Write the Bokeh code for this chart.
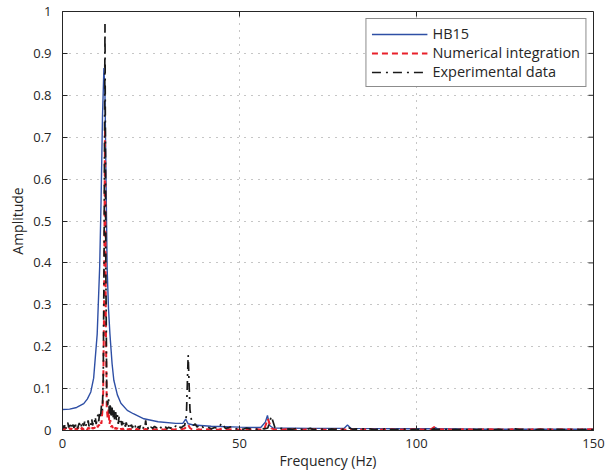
import numpy as np
from bokeh.plotting import figure
from bokeh.models import FixedTicker, CustomJSTickFormatter, Range1d
from bokeh.embed import file_html
from bokeh.resources import INLINE

# ---------------- data ----------------
x_ticks = [0, 50, 100, 150]
y_ticks = [0, 0.1, 0.2, 0.3, 0.4, 0.5, 0.6, 0.7, 0.8, 0.9, 1.0]

# HB15 (harmonic balance) response
hb_freq = [0, 2, 4, 6, 7, 8, 8.8, 9.8, 10.5, 10.9, 11.3, 11.7, 12.0, 12.3, 12.6, 13.0,
           13.4, 14.0, 14.5, 15.5, 16.5, 18.3, 20, 23, 27, 32, 34, 34.8, 35.5, 37, 42, 50,
           56, 57.3, 57.9, 58.5, 59.5, 70, 79.5, 80.5, 81.5, 95, 104.5, 105.3, 106, 120, 150]
hb_amp = [0.050, 0.051, 0.055, 0.064, 0.075, 0.092, 0.125, 0.23, 0.39, 0.55, 0.75, 0.865,
          0.80, 0.60, 0.39, 0.29, 0.23, 0.16, 0.12, 0.085, 0.065, 0.048, 0.040, 0.028,
          0.021, 0.017, 0.017, 0.027, 0.016, 0.013, 0.010, 0.008, 0.007, 0.020, 0.036,
          0.012, 0.006, 0.005, 0.005, 0.013, 0.005, 0.004, 0.004, 0.007, 0.004, 0.003, 0.003]

# Experimental spectrum: 0-25 Hz every 0.25 Hz, 25.5-40 Hz every 0.5 Hz, 41-150 Hz every 1 Hz
exp_a = [0.004, 0.012, 0.006, 0.016, 0.005, 0.011, 0.019, 0.007, 0.013, 0.004,
         0.017, 0.009, 0.014, 0.006, 0.020, 0.010, 0.015, 0.005, 0.012, 0.018,
         0.008, 0.014, 0.006, 0.017, 0.011, 0.021, 0.009, 0.016, 0.012, 0.024,
         0.010, 0.019, 0.014, 0.028, 0.012, 0.022, 0.017, 0.033, 0.015, 0.027,
         0.038, 0.022, 0.045, 0.030, 0.060, 0.048, 0.120, 0.420, 0.970, 0.380,
         0.085, 0.060, 0.078, 0.040, 0.065, 0.030, 0.055, 0.028, 0.048, 0.022,
         0.045, 0.025, 0.038, 0.016, 0.034, 0.020, 0.028, 0.012, 0.025, 0.015,
         0.022, 0.009, 0.019, 0.011, 0.017, 0.008, 0.016, 0.010, 0.014, 0.006,
         0.013, 0.008, 0.012, 0.005, 0.011, 0.007, 0.010, 0.004, 0.012, 0.006,
         0.009, 0.005, 0.010, 0.007, 0.024, 0.006, 0.009, 0.004, 0.010, 0.006,
         0.008]
exp_b = [0.005, 0.010, 0.006, 0.011, 0.005, 0.009, 0.006, 0.010, 0.004, 0.008,
         0.005, 0.010, 0.006, 0.011, 0.005, 0.009, 0.006, 0.010, 0.012, 0.035,
         0.180, 0.050, 0.020, 0.012, 0.016, 0.008, 0.011, 0.006, 0.009, 0.005]
exp_c = [0.008, 0.004, 0.007, 0.005, 0.018, 0.005, 0.007, 0.010, 0.004, 0.006,
         0.003, 0.006, 0.004, 0.005, 0.003, 0.005, 0.004, 0.006, 0.034, 0.007,
         0.004, 0.005, 0.003, 0.004, 0.003, 0.005, 0.002, 0.004, 0.003, 0.005,
         0.002, 0.004, 0.003, 0.004, 0.002, 0.004, 0.003, 0.005, 0.003, 0.004,
         0.006, 0.003, 0.004, 0.002, 0.004, 0.003, 0.004, 0.002, 0.003, 0.002,
         0.004, 0.002, 0.003, 0.002, 0.003, 0.002, 0.004, 0.002, 0.003, 0.002,
         0.003, 0.002, 0.003, 0.002, 0.004, 0.002, 0.003, 0.002, 0.003, 0.002,
         0.003, 0.002, 0.003, 0.002, 0.002, 0.003, 0.002, 0.003, 0.002, 0.003,
         0.002, 0.002, 0.003, 0.002, 0.003, 0.002, 0.003, 0.004, 0.002, 0.003,
         0.002, 0.002, 0.003, 0.002, 0.003, 0.002, 0.002, 0.003, 0.002, 0.003,
         0.002, 0.002, 0.003, 0.002, 0.003, 0.002, 0.002, 0.003, 0.002, 0.002]

# Numerical integration spectrum, same bins
num_a = [0.002, 0.005, 0.002, 0.004, 0.006, 0.002, 0.004, 0.003, 0.006, 0.002,
         0.005, 0.003, 0.002, 0.006, 0.003, 0.005, 0.002, 0.004, 0.006, 0.002,
         0.005, 0.003, 0.007, 0.002, 0.004, 0.006, 0.003, 0.005, 0.002, 0.007,
         0.004, 0.006, 0.003, 0.008, 0.004, 0.007, 0.005, 0.009, 0.006, 0.011,
         0.008, 0.014, 0.010, 0.020, 0.016, 0.045, 0.090, 0.300, 0.720, 0.250,
         0.055, 0.030, 0.050, 0.015, 0.025, 0.008, 0.012, 0.005, 0.009, 0.004,
         0.007, 0.003, 0.006, 0.002, 0.005, 0.003, 0.004, 0.002, 0.005, 0.002,
         0.004, 0.002, 0.003, 0.005, 0.002, 0.003, 0.004, 0.002, 0.003, 0.002,
         0.004, 0.002, 0.003, 0.002, 0.004, 0.002, 0.003, 0.002, 0.004, 0.002,
         0.003, 0.002, 0.003, 0.002, 0.004, 0.002, 0.003, 0.002, 0.003, 0.002,
         0.003]
num_b = [0.002, 0.003, 0.002, 0.004, 0.002, 0.003, 0.002, 0.003, 0.002, 0.004,
         0.002, 0.003, 0.002, 0.003, 0.002, 0.003, 0.002, 0.004, 0.005, 0.009,
         0.014, 0.006, 0.003, 0.002, 0.003, 0.002, 0.003, 0.002, 0.003, 0.002]
num_c = [0.003, 0.002, 0.003, 0.002, 0.004, 0.002, 0.003, 0.002, 0.003, 0.002,
         0.003, 0.002, 0.003, 0.002, 0.003, 0.002, 0.003, 0.028, 0.005, 0.002,
         0.003, 0.002, 0.003, 0.002, 0.003, 0.002, 0.003, 0.002, 0.003, 0.002,
         0.003, 0.002, 0.003, 0.002, 0.003, 0.002, 0.003, 0.002, 0.003, 0.002,
         0.004, 0.002, 0.003, 0.002, 0.003, 0.002, 0.003, 0.002, 0.003, 0.002,
         0.003, 0.002, 0.003, 0.002, 0.003, 0.002, 0.003, 0.002, 0.003, 0.002,
         0.003, 0.002, 0.003, 0.002, 0.008, 0.002, 0.003, 0.002, 0.003, 0.002,
         0.003, 0.002, 0.003, 0.002, 0.003, 0.002, 0.003, 0.002, 0.003, 0.002,
         0.003, 0.002, 0.003, 0.002, 0.003, 0.002, 0.003, 0.002, 0.003, 0.002,
         0.003, 0.002, 0.003, 0.002, 0.003, 0.002, 0.003, 0.002, 0.003, 0.002,
         0.003, 0.002, 0.003, 0.002, 0.003, 0.002, 0.003, 0.002, 0.003, 0.002]


def bins(a, b, c):
    return np.concatenate([0.25 * np.arange(len(a)),
                           25.5 + 0.5 * np.arange(len(b)),
                           41.0 + 1.0 * np.arange(len(c))])


exp_freq = bins(exp_a, exp_b, exp_c)
exp_amp = np.array(exp_a + exp_b + exp_c)
num_freq = bins(num_a, num_b, num_c)
num_amp = np.array(num_a + num_b + num_c)

# ---------------- figure ----------------
FONT = "Open Sans"
TXT = "#262626"
BLUE = "#2E4FA5"
RED = "#E8202A"
BLACK = "#1A1A1A"

W, H = 605, 474
p = figure(width=W, height=H, output_backend="svg", toolbar_location=None,
           x_range=Range1d(0, 150), y_range=Range1d(0, 1),
           min_border_left=62, min_border_right=12, min_border_top=11, min_border_bottom=44)

p.background_fill_color = "white"
p.border_fill_color = "white"
p.outline_line_color = TXT
p.outline_line_width = 1

for ax in (p.xaxis[0], p.yaxis[0]):
    ax.major_tick_in = 5
    ax.major_tick_out = 0
    ax.minor_tick_line_color = None
    ax.axis_line_color = TXT
    ax.major_tick_line_color = TXT
    ax.major_label_text_font = FONT
    ax.major_label_text_font_size = "13px"
    ax.major_label_text_color = TXT
    ax.axis_label_text_font = FONT
    ax.axis_label_text_font_size = "14px"
    ax.axis_label_text_font_style = "normal"
    ax.axis_label_text_color = TXT

p.xaxis.ticker = FixedTicker(ticks=x_ticks)
p.yaxis.ticker = FixedTicker(ticks=y_ticks)
p.yaxis.formatter = CustomJSTickFormatter(code="return (Math.round(tick*10)/10).toString();")
p.xaxis.axis_label = "Frequency (Hz)"
p.yaxis.axis_label = "Amplitude"
p.xaxis.major_label_standoff = 8
p.xaxis.axis_label_standoff = 0
p.yaxis.major_label_standoff = 11
p.yaxis.axis_label_standoff = 3

p.xgrid.ticker = FixedTicker(ticks=x_ticks)
p.ygrid.ticker = FixedTicker(ticks=y_ticks)
p.grid.grid_line_color = "#8c8c8c"
p.grid.grid_line_dash = "1 6"
p.grid.grid_line_width = 1

# inward ticks on the top and right edges of the box (5 px long)
frame_w = W - 62 - 12
frame_h = H - 11 - 44
dx = 5 * 150 / frame_w
dy = 5 * 1.0 / frame_h
p.segment(x0=x_ticks, y0=[1.0] * len(x_ticks), x1=x_ticks, y1=[1.0 - dy] * len(x_ticks),
          line_color=TXT, line_width=1)
p.segment(x0=[150] * len(y_ticks), y0=y_ticks, x1=[150 - dx] * len(y_ticks), y1=y_ticks,
          line_color=TXT, line_width=1)

p.line(hb_freq, hb_amp, color=BLUE, line_width=1.4, legend_label="HB15")
p.line(num_freq, num_amp, color=RED, line_width=2, line_dash="6 4",
       legend_label="Numerical integration")
p.line(exp_freq, exp_amp, color=BLACK, line_width=1.7, line_dash="9 5 2 5",
       legend_label="Experimental data")

lg = p.legend[0]
lg.location = "top_right"
lg.margin = 7
lg.padding = 5
lg.spacing = 0
lg.glyph_width = 56
lg.glyph_height = 14
lg.label_height = 14
lg.label_standoff = 5
lg.border_line_color = BLACK
lg.border_line_width = 1
lg.background_fill_alpha = 1
lg.label_text_font = FONT
lg.label_text_font_size = "14.5px"
lg.label_text_color = TXT

open("out.html", "w").write(file_html(p, INLINE))
